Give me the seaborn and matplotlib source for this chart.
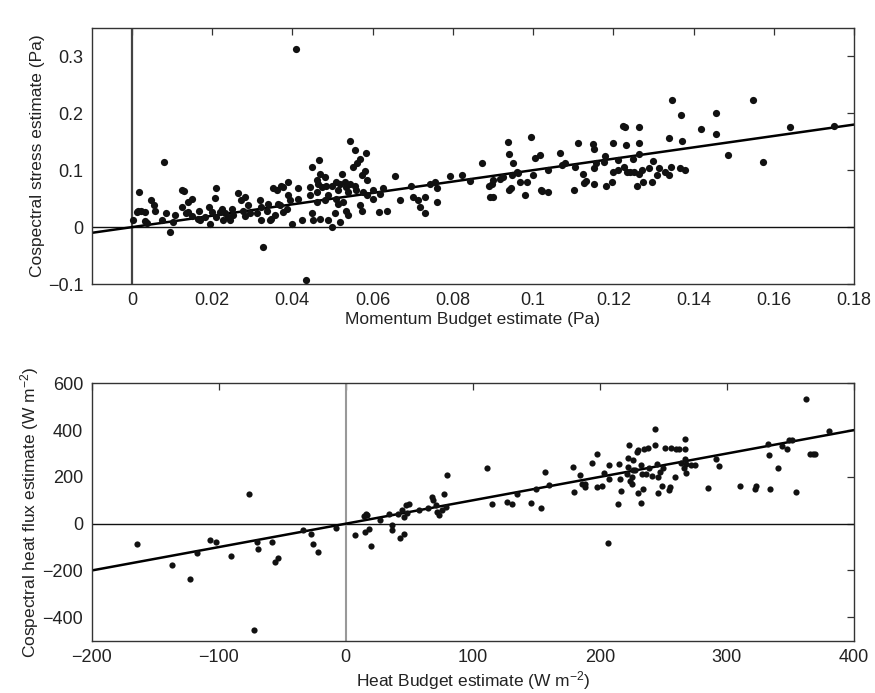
import matplotlib
matplotlib.use("Agg")
import matplotlib.pyplot as plt
import seaborn as sns
import numpy as np

# ---------------- Top panel data (momentum) ----------------
mom_budget = [
    0.0003, 0.0012, 0.0017, 0.0024, 0.0032, 0.0032, 0.0049, 0.0055, 0.0057, 0.0074,
    0.0081, 0.0086, 0.0096, 0.0103, 0.0107, 0.0124, 0.0131, 0.0124, 0.0140, 0.0149,
    0.0140, 0.0149, 0.0168, 0.0170, 0.0182, 0.0195, 0.0193, 0.0199, 0.0207, 0.0211,
    0.0211, 0.0219, 0.0224, 0.0228, 0.0240, 0.0249, 0.0253, 0.0265, 0.0271, 0.0278,
    0.0282, 0.0290, 0.0282, 0.0319, 0.0323, 0.0323, 0.0328, 0.0336, 0.0340, 0.0348,
    0.0352, 0.0357, 0.0361, 0.0373, 0.0377, 0.0369, 0.0377, 0.0386, 0.0390,
    0.0136, 0.0164, 0.0232, 0.0244, 0.0294, 0.0311, 0.0344, 0.0365, 0.0038, 0.0016,
    0.0545, 0.0556, 0.0584, 0.0569, 0.0561, 0.0552, 0.0580, 0.0573, 0.0586, 0.0467,
    0.0448, 0.0469, 0.0481, 0.0461, 0.0465, 0.0473, 0.0485, 0.0498, 0.0510, 0.0523,
    0.0519, 0.0531, 0.0535, 0.0544, 0.0556, 0.0560, 0.0540, 0.0515, 0.0461, 0.0444,
    0.0415, 0.0390, 0.0394, 0.0415, 0.0444, 0.0461, 0.0481, 0.0490, 0.0510, 0.0515,
    0.0527, 0.0535, 0.0540, 0.0506, 0.0490, 0.0469, 0.0452, 0.0448, 0.0423, 0.0398,
    0.0498, 0.0519, 0.0569, 0.0573, 0.0577, 0.0586, 0.0602, 0.0600, 0.0619, 0.0627,
    0.0617, 0.0635, 0.0656, 0.0668, 0.0697, 0.0701, 0.0714, 0.0718, 0.0731, 0.0731,
    0.0743, 0.0756, 0.0760, 0.0760, 0.0793,
    0.0410, 0.0434,
    0.0822, 0.0843, 0.0872, 0.0891, 0.0893,
    0.0897, 0.0901, 0.0899, 0.0918, 0.0926, 0.0938, 0.0940, 0.0940, 0.0944, 0.0947,
    0.0951, 0.0959, 0.0963, 0.0968, 0.0980, 0.0986, 0.0994, 0.0999, 0.1005, 0.1017,
    0.1019, 0.1022, 0.1038, 0.1038, 0.1068, 0.1072, 0.1080, 0.1102, 0.1105, 0.1111,
    0.1124, 0.1126, 0.1133, 0.1149, 0.1151, 0.1152, 0.1152, 0.1157, 0.1180, 0.1177,
    0.1182, 0.1196, 0.1199, 0.1200, 0.1211, 0.1213, 0.1225, 0.1228, 0.1232, 0.1227,
    0.1233, 0.1242, 0.1250, 0.1251, 0.1258, 0.1265, 0.1265, 0.1265, 0.1265, 0.1271,
    0.1275, 0.1288, 0.1296, 0.1299, 0.1310, 0.1313, 0.1329, 0.1338, 0.1340, 0.1344,
    0.1346, 0.1366, 0.1369, 0.1372, 0.1379, 0.1419, 0.1456, 0.1456, 0.1487, 0.1548,
    0.1574, 0.1641, 0.1750,
]
cosp_stress = [
    0.012, 0.026, 0.061, 0.029, 0.026, 0.010, 0.047, 0.038, 0.028, 0.012,
    0.114, 0.024, -0.009, 0.009, 0.021, 0.065, 0.063, 0.035, 0.044, 0.050,
    0.026, 0.019, 0.029, 0.013, 0.018, 0.005, 0.035, 0.026, 0.052, 0.069,
    0.018, 0.026, 0.032, 0.013, 0.018, 0.032, 0.021, 0.060, 0.047, 0.029,
    0.053, 0.038, 0.019, 0.047, 0.036, 0.012, -0.034, 0.029, 0.041, 0.015,
    0.068, 0.021, 0.065, 0.073, 0.071, 0.038, 0.026, 0.032, 0.079,
    0.024, 0.015, 0.024, 0.012, 0.024, 0.024, 0.012, 0.041, 0.007, 0.028,
    0.151, 0.136, 0.131, 0.119, 0.112, 0.106, 0.099, 0.091, 0.083, 0.118,
    0.105, 0.094, 0.088, 0.083, 0.076, 0.071, 0.073, 0.073, 0.079, 0.094,
    0.076, 0.079, 0.071, 0.076, 0.073, 0.065, 0.062, 0.065, 0.062, 0.071,
    0.068, 0.056, 0.047, 0.050, 0.056, 0.044, 0.047, 0.056, 0.050, 0.041,
    0.044, 0.029, 0.021, 0.024, 0.012, 0.015, 0.012, 0.024, 0.012, 0.006,
    0.001, 0.009, 0.038, 0.029, 0.062, 0.056, 0.065, 0.050, 0.059, 0.068,
    0.026, 0.029, 0.089, 0.047, 0.072, 0.053, 0.047, 0.036, 0.024, 0.053,
    0.076, 0.079, 0.068, 0.044, 0.089,
    0.312, -0.092,
    0.091, 0.081, 0.113, 0.073, 0.053,
    0.076, 0.082, 0.053, 0.085, 0.088, 0.149, 0.128, 0.065, 0.068, 0.091,
    0.112, 0.097, 0.095, 0.079, 0.056, 0.079, 0.158, 0.091, 0.121, 0.126,
    0.066, 0.064, 0.062, 0.100, 0.131, 0.109, 0.113, 0.066, 0.105, 0.147,
    0.094, 0.078, 0.081, 0.146, 0.138, 0.076, 0.103, 0.112, 0.125, 0.115,
    0.072, 0.079, 0.097, 0.148, 0.118, 0.100, 0.178, 0.175, 0.144, 0.106,
    0.097, 0.097, 0.119, 0.097, 0.072, 0.175, 0.147, 0.128, 0.094, 0.100,
    0.079, 0.103, 0.079, 0.116, 0.091, 0.103, 0.097, 0.091, 0.156, 0.106,
    0.223, 0.103, 0.197, 0.151, 0.101, 0.173, 0.200, 0.163, 0.126, 0.223,
    0.115, 0.176, 0.178,
]
mom_line_x = [-0.01, 0.18]
mom_line_y = [-0.01, 0.18]

# ---------------- Bottom panel data (heat) ----------------
heat_budget = [
    -164, -137, -123, -117, -107, -102, -90, -76, -72.5, -70,
    -69, -58, -56, -53, -33.5, -27, -26, -21.5, -8,
    7, 14, 16, 17, 15, 18, 20, 27, 34, 36,
    36, 43, 46, 41, 44, 46, 47, 50, 48, 58,
    65, 68, 69, 71, 72, 73, 76, 77, 80, 78.5,
    111, 115, 127, 131, 135, 146, 150, 154, 157, 160,
    179, 180, 184, 186, 188, 188, 194, 198, 198, 202,
    203, 206, 207, 207, 214, 215, 216, 217, 221, 222,
    222, 223, 224, 225, 225, 226, 226, 228, 229, 230,
    230, 232, 233, 232, 234, 235, 236, 238, 239, 241,
    243, 243, 245, 246, 246, 247, 249, 250, 251, 254,
    255, 256, 259, 260, 262, 264, 266, 267, 267, 267,
    268, 268, 272, 275, 285, 291, 294, 310, 322, 323,
    332, 333, 334, 340, 343, 347, 349, 351, 354, 362,
    365, 368, 369, 380,
]
heat_cosp = [
    -86, -176, -236, -126, -71, -79, -136, 126, -454, -79,
    -107, -79, -164, -147, -29, -43, -86, -121, -17,
    -49, 31, 40, 36, -36, -21, -97, 14, 43, -7,
    -26, -60, -43, 40, 57, 29, 79, 83, 46, 60,
    69, 114, 100, 79, 50, 36, 57, 128, 207, 71,
    238, 83, 93, 83, 126, 89, 147, 67, 223, 167,
    243, 134, 207, 168, 171, 157, 260, 297, 157, 160,
    217, -81, 193, 250, 86, 253, 193, 140, 214, 243,
    281, 335, 181, 168, 200, 231, 274, 228, 307, 317,
    131, 250, 214, 89, 150, 321, 214, 325, 240, 203,
    335, 405, 257, 200, 131, 221, 160, 238, 324, 146,
    157, 325, 200, 321, 321, 260, 240, 361, 318, 276,
    217, 257, 250, 250, 153, 276, 247, 163, 150, 160,
    340, 293, 150, 236, 331, 321, 357, 357, 136, 532,
    297, 297, 297, 397,
]
heat_line_x = [-200, 400]
heat_line_y = [-200, 400]

# ---------------- Styling ----------------
sns.set_style("white")
plt.rcParams["font.family"] = ["Liberation Sans", "DejaVu Sans"]
plt.rcParams["mathtext.default"] = "regular"

fig = plt.figure(figsize=(8.75, 6.93), dpi=100)
ax1 = fig.add_axes([0.1048, 0.590, 0.8712, 0.370])
ax2 = fig.add_axes([0.1048, 0.0755, 0.8712, 0.3714])

FS_TICK = 13
FS_LAB = 12.5

def style(ax):
    for sp in ax.spines.values():
        sp.set_color("#333333")
        sp.set_linewidth(1.0)
        sp.set_visible(True)
    ax.tick_params(direction="in", length=5, width=0.9, color="#333333",
                   top=True, right=True, labelsize=FS_TICK, labelcolor="#222222",
                   pad=6)

# Top panel
ax1.axhline(0, color="#111111", lw=1.0, zorder=1)
ax1.axvline(0, color="#444444", lw=1.6, zorder=1)
sns.lineplot(x=mom_line_x, y=mom_line_y, ax=ax1, color="black", lw=1.8, zorder=2)
sns.scatterplot(x=mom_budget, y=cosp_stress, ax=ax1, color="#111111", s=27,
                linewidth=0, zorder=3)
ax1.set_xlim(-0.01, 0.18)
ax1.set_ylim(-0.1, 0.35)
ax1.set_xticks(np.arange(0, 0.181, 0.02))
ax1.set_xticklabels(["0", "0.02", "0.04", "0.06", "0.08", "0.1", "0.12", "0.14", "0.16", "0.18"])
ax1.set_yticks([-0.1, 0, 0.1, 0.2, 0.3])
ax1.set_yticklabels(["\u22120.1", "0", "0.1", "0.2", "0.3"])
ax1.set_xlabel("Momentum Budget estimate (Pa)", fontsize=FS_LAB, color="#222222", labelpad=2)
ax1.set_ylabel("Cospectral stress estimate (Pa)", fontsize=FS_LAB, color="#222222", labelpad=2)
style(ax1)

# Bottom panel
ax2.axhline(0, color="#111111", lw=1.0, zorder=1)
ax2.axvline(0, color="#999999", lw=1.5, zorder=1)
sns.lineplot(x=heat_line_x, y=heat_line_y, ax=ax2, color="black", lw=1.8, zorder=2)
sns.scatterplot(x=heat_budget, y=heat_cosp, ax=ax2, color="#111111", s=20,
                linewidth=0, zorder=3)
ax2.set_xlim(-200, 400)
ax2.set_ylim(-500, 600)
ax2.set_xticks([-200, -100, 0, 100, 200, 300, 400])
ax2.set_yticks([-400, -200, 0, 200, 400, 600])
ax2.set_xlabel("Heat Budget estimate (W m$^{-2}$)", fontsize=FS_LAB, color="#222222", labelpad=2)
ax2.set_ylabel("Cospectral heat flux estimate (W m$^{-2}$)", fontsize=FS_LAB, color="#222222", labelpad=1)
style(ax2)

fig.savefig("out.png", dpi=100)
